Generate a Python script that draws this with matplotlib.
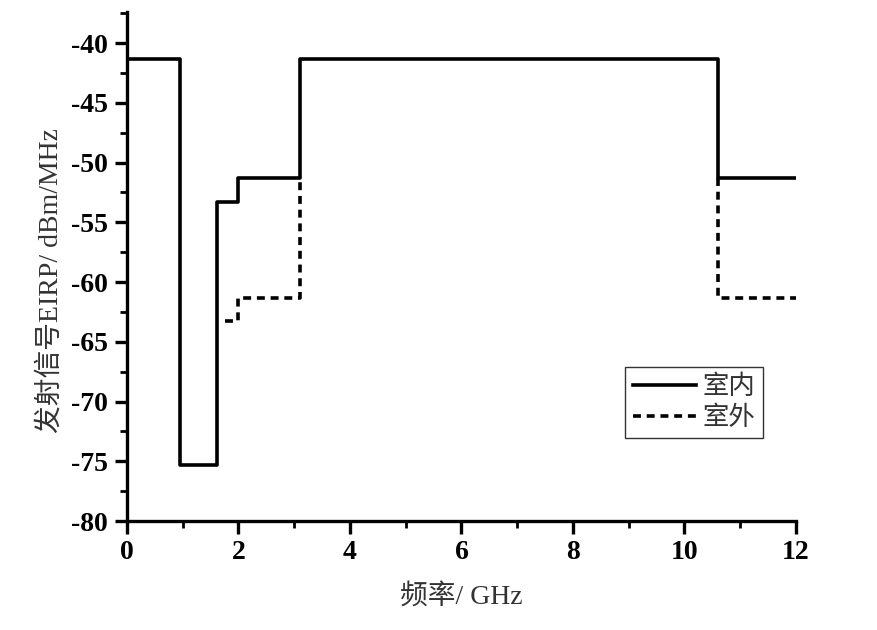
import matplotlib.pyplot as plt
from matplotlib.ticker import MultipleLocator

plt.rcParams['axes.unicode_minus'] = False

# FCC UWB emission mask (GHz, dBm/MHz)
indoor_f = [0, 0.96, 0.96, 1.61, 1.61, 1.99, 1.99, 3.1, 3.1, 10.6, 10.6, 12]
indoor_p = [-41.3, -41.3, -75.3, -75.3, -53.3, -53.3, -51.3, -51.3, -41.3, -41.3, -51.3, -51.3]
outdoor_f = [1.75, 1.99, 1.99, 3.1, 3.1, 10.6, 10.6, 12]
outdoor_p = [-63.3, -63.3, -61.3, -61.3, -51.3, -51.3, -61.3, -61.3]

serif = ['Liberation Serif', 'Noto Sans CJK SC']
dash = (0, (2.2, 1.6))

fig = plt.figure(figsize=(8.78, 6.3), dpi=100)
ax = fig.add_axes([0.1446, 0.173, 0.762, 0.808])

# outdoor first so the solid line sits on top where they overlap
ax.plot(outdoor_f[:5], outdoor_p[:5], color='black', lw=2.6, ls=dash)
ax.plot(outdoor_f[5:], outdoor_p[5:], color='black', lw=2.6, ls=dash)
ax.plot(indoor_f, indoor_p, color='black', lw=2.6, label='室内')
ax.plot([], [], color='black', lw=2.6, ls=dash, label='室外')

ax.set_xlim(0, 12)
ax.set_ylim(-80, -37.4)
ax.xaxis.set_major_locator(MultipleLocator(2))
ax.xaxis.set_minor_locator(MultipleLocator(1))
ax.yaxis.set_major_locator(MultipleLocator(5))
ax.yaxis.set_minor_locator(MultipleLocator(2.5))

for s in ['top', 'right']:
    ax.spines[s].set_visible(False)
for s in ['left', 'bottom']:
    ax.spines[s].set_linewidth(2.4)
ax.tick_params(which='major', direction='out', length=9, width=2.4, labelsize=20, pad=5)
ax.tick_params(which='minor', direction='out', length=5, width=2.0)
for lbl in ax.get_xticklabels() + ax.get_yticklabels():
    lbl.set_fontfamily('Liberation Serif')
    lbl.set_fontweight('bold')

ax.set_xlabel('频率/ GHz', fontsize=20, family=serif, color='#333333', labelpad=13)
ax.set_ylabel('发射信号EIRP/ dBm/MHz', fontsize=20, family=serif, color='#333333')
ax.yaxis.set_label_coords(-0.094, 0.473)

leg = ax.legend(loc='upper left', bbox_to_anchor=(0.744, 0.3026), borderaxespad=0,
                fancybox=False, edgecolor='#333333', framealpha=1, handlelength=2.4,
                borderpad=0.3, labelspacing=0.25, handletextpad=0.25,
                prop={'family': serif, 'size': 19})
leg.get_frame().set_linewidth(1.0)
for t in leg.get_texts():
    t.set_color('#333333')

fig.savefig('out.png', dpi=100)
